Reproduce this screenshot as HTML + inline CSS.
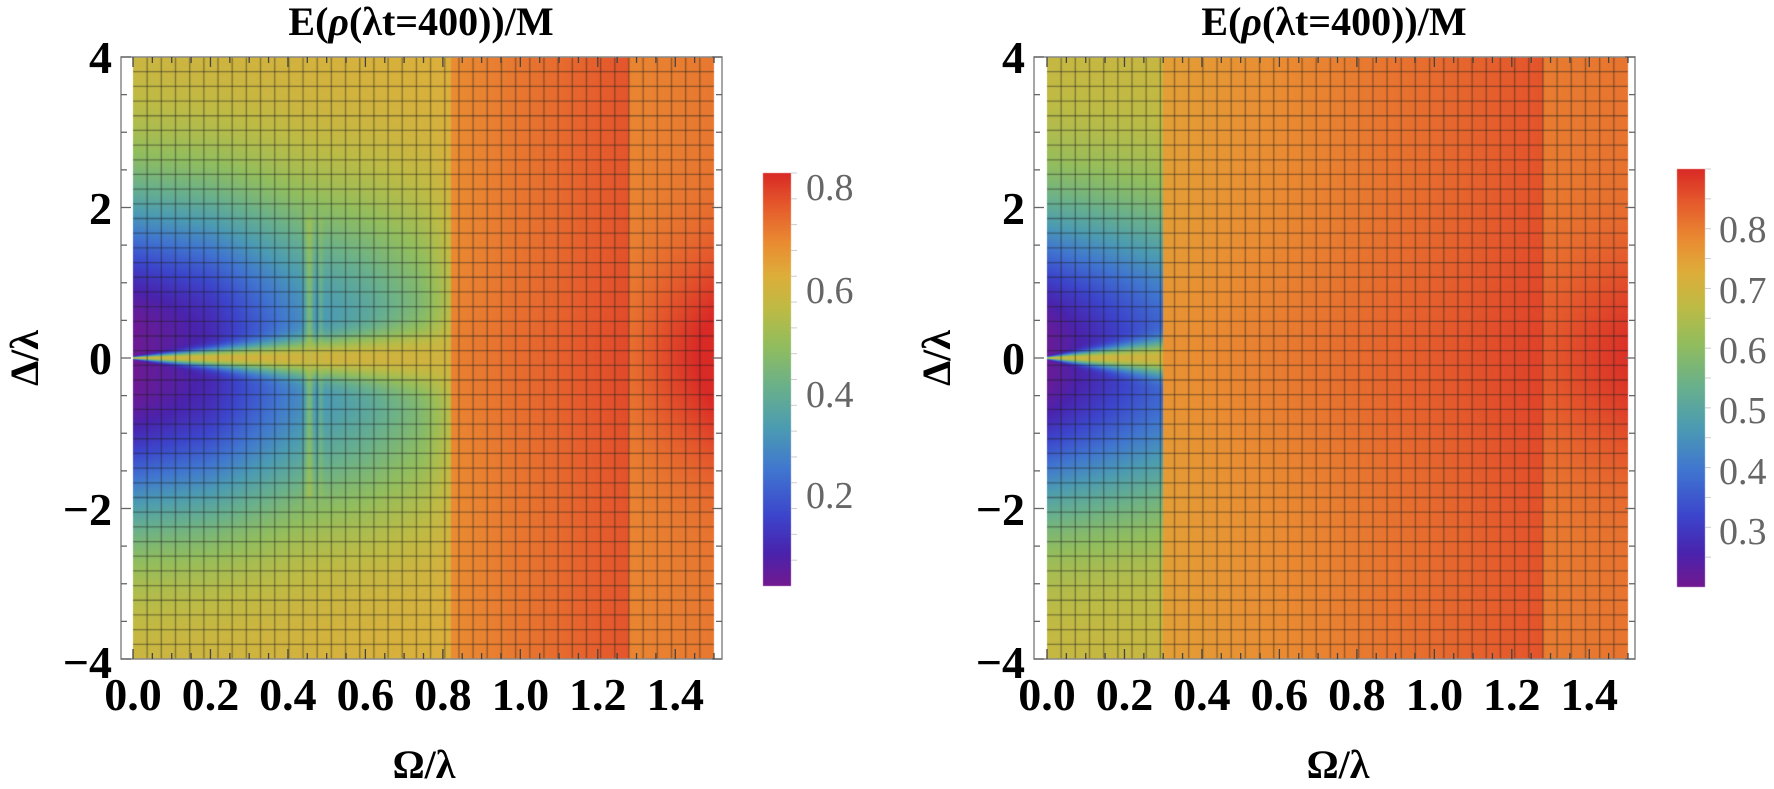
<!DOCTYPE html>
<html><head><meta charset="utf-8">
<style>
html,body{margin:0;padding:0;background:#fff;}
#wrap{position:relative;width:1774px;height:789px;overflow:hidden;}
canvas{position:absolute;left:0;top:0;}
svg{position:absolute;left:0;top:0;}
</style></head>
<body><div id="wrap">
<canvas id="c" width="1774" height="789"></canvas>
<svg width="1774" height="789" xmlns="http://www.w3.org/2000/svg" font-family="Liberation Serif, serif">
<rect x="121" y="57" width="601" height="602" fill="none" stroke="#888" stroke-width="1.5"/>
<g id="ticks1"></g>
<rect x="1034" y="57" width="601" height="602" fill="none" stroke="#888" stroke-width="1.5"/>
<g id="ticks2"></g>
<text x="421" y="35" font-size="40" font-weight="bold" text-anchor="middle">E(<tspan font-style="italic">ρ</tspan>(λt=400))/M</text>
<text x="1334" y="35" font-size="40" font-weight="bold" text-anchor="middle">E(<tspan font-style="italic">ρ</tspan>(λt=400))/M</text>
<g font-size="46" font-weight="bold" text-anchor="end">
<text x="112" y="73">4</text>
<text x="112" y="224">2</text>
<text x="112" y="374">0</text>
<text x="112" y="525">−2</text>
<text x="112" y="678">−4</text>
<text x="1025" y="73">4</text>
<text x="1025" y="224">2</text>
<text x="1025" y="374">0</text>
<text x="1025" y="525">−2</text>
<text x="1025" y="678">−4</text>
</g>
<g font-size="46" font-weight="bold" text-anchor="middle" id="xl"></g>
<text x="424" y="778" font-size="40" font-weight="bold" text-anchor="middle">Ω/λ</text>
<text x="1338" y="778" font-size="40" font-weight="bold" text-anchor="middle">Ω/λ</text>
<text transform="translate(38,358) rotate(-90)" font-size="40" font-weight="bold" text-anchor="middle">Δ/λ</text>
<text transform="translate(950,358) rotate(-90)" font-size="40" font-weight="bold" text-anchor="middle">Δ/λ</text>
<g id="cb"></g>
<g font-size="38" fill="#666">
<text x="806" y="200">0.8</text>
<text x="806" y="303">0.6</text>
<text x="806" y="407">0.4</text>
<text x="806" y="508">0.2</text>
<text x="1719" y="242">0.8</text>
<text x="1719" y="303">0.7</text>
<text x="1719" y="363">0.6</text>
<text x="1719" y="423">0.5</text>
<text x="1719" y="484">0.4</text>
<text x="1719" y="544">0.3</text>
</g>
</svg>
</div>
<script>
var stops=[[0,[114,25,143]],[0.08,[74,35,173]],[0.17,[60,69,204]],[0.28,[64,118,208]],[0.38,[75,155,179]],[0.48,[105,176,140]],[0.58,[145,189,94]],[0.67,[189,187,69]],[0.75,[221,174,58]],[0.83,[234,140,50]],[0.92,[229,90,44]],[1,[217,42,38]]];
function cmap(t){t=Math.max(0,Math.min(1,t));for(var i=1;i<stops.length;i++){if(t<=stops[i][0]){var a=stops[i-1],b=stops[i],u=(t-a[0])/(b[0]-a[0]);return [a[1][0]+(b[1][0]-a[1][0])*u,a[1][1]+(b[1][1]-a[1][1])*u,a[1][2]+(b[1][2]-a[1][2])*u];}}return stops[stops.length-1][1];}
function pl(pts,x){if(x<=pts[0][0])return pts[0][1];for(var i=1;i<pts.length;i++){if(x<=pts[i][0]){var a=pts[i-1],b=pts[i];return a[1]+(b[1]-a[1])*(x-a[0])/(b[0]-a[0]);}}return pts[pts.length-1][1];}
var vm1=[[0,0.03],[0.2,0.1],[0.35,0.22],[0.45,0.3],[0.6,0.36],[0.75,0.45],[0.82,0.55]];
function f1(x,y){var ay=Math.abs(y),v;
 if(x<0.82){var vmin=pl(vm1,x),vtop=0.6+0.025*x/0.82;var d=Math.max(ay-0.3,0)/1.9;var h=Math.exp(-d*d);v=vtop-(vtop-vmin)*h;
  var w=0.015+0.5*x;v+=(0.6-v)*Math.exp(-(ay/w)*(ay/w));
  var lim=ay<1.8?1:Math.exp(-Math.pow((ay-1.8)/0.1,2));
  var s=Math.exp(-Math.pow((x-0.455)/0.01,2))*lim;v+=(0.56-v)*s*0.55;
  var s2=Math.exp(-Math.pow((x-0.485)/0.006,2))*lim;v+=(0.55-v)*s2*0.3;
 }else if(x<1.28){var u=(x-0.82)/0.46;v=0.69+0.08*u+0.015*Math.exp(-ay*ay/1.5);}
 else{var u=(x-1.28)/0.22;v=0.70+0.02*u+0.03*Math.exp(-ay*ay/1.5)+0.1*u*Math.exp(-Math.pow(ay/1.4,2));}
 return (v-0.023)/(0.827-0.023);}
function f2(x,y){var ay=Math.abs(y),v;
 if(x<0.3){var vmin=0.22+0.5*x,vtop=0.69;var d=Math.max(ay-0.2,0)/1.8;var h=Math.exp(-d*d);v=vtop-(vtop-vmin)*h;
  var w=0.015+0.7*x;v+=(0.7-v)*Math.exp(-(ay/w)*(ay/w));
 }else if(x<1.28){var u=(x-0.3)/0.98;v=0.75+0.1*u+0.02*Math.exp(-ay*ay/2);}
 else{var u=(x-1.28)/0.22;v=0.80+0.01*u+0.08*(0.5+0.5*u)*Math.exp(-Math.pow(ay/1.4,2));}
 return (v-0.207)/(0.898-0.207);}
var c=document.getElementById('c'),ctx=c.getContext('2d');
function heat(x0,f){var W=581,H=602,img=ctx.createImageData(W,H);
 for(var py=0;py<H;py++){var y=4-(py+0.5)/H*8;for(var px=0;px<W;px++){var x=(px+0.5)/W*1.5;var col=cmap(f(x,y));var k=(py*W+px)*4;img.data[k]=col[0];img.data[k+1]=col[1];img.data[k+2]=col[2];img.data[k+3]=255;}}
 ctx.putImageData(img,x0,57);
 ctx.strokeStyle='rgba(30,30,30,0.45)';ctx.lineWidth=1.3;
 for(var i=1;i<41;i++){var gx=x0+i*W/41;ctx.beginPath();ctx.moveTo(gx,57);ctx.lineTo(gx,659);ctx.stroke();
  var gy=57+i*H/41;ctx.beginPath();ctx.moveTo(x0,gy);ctx.lineTo(x0+W,gy);ctx.stroke();}
}
heat(133,f1);heat(1047,f2);
function bar(x,top,bot){var g=ctx.createLinearGradient(0,bot,0,top);for(var i=0;i<stops.length;i++){var s=stops[i];g.addColorStop(s[0],'rgb('+s[1].map(Math.round).join(',')+')');}ctx.fillStyle=g;ctx.fillRect(x,top,28,bot-top);}
bar(763,173,586);bar(1677,169,587);
var NS='http://www.w3.org/2000/svg';
function ln(g,x1,y1,x2,y2,c,w){var l=document.createElementNS(NS,'line');l.setAttribute('x1',x1);l.setAttribute('y1',y1);l.setAttribute('x2',x2);l.setAttribute('y2',y2);l.setAttribute('stroke',c||'#666');l.setAttribute('stroke-width',w||1.3);g.appendChild(l);}
function ticks(id,fl,x0,fr){var g=document.getElementById(id);
 for(var i=0;i<=16;i++){var y=57+i*602/16;var L=(i%4==0)?10:6;ln(g,fl,y,fl+L,y);ln(g,fr,y,fr-L,y);}
 for(var j=0;j<=30;j++){var x=x0+j*581/30;var L=(j%4==0)?10:6;ln(g,x,659,x,659-L,'#444');ln(g,x,57,x,57+L,'#444');}
}
ticks('ticks1',121,133,722);ticks('ticks2',1034,1047,1635);
var xl=document.getElementById('xl');var labs=['0.0','0.2','0.4','0.6','0.8','1.0','1.2','1.4'];
[133,1047].forEach(function(x0){labs.forEach(function(s,i){var t=document.createElementNS(NS,'text');t.setAttribute('x',x0+i*0.2*581/1.5);t.setAttribute('y',710);t.textContent=s;xl.appendChild(t);});});
var cb=document.getElementById('cb');
for(var k=0;k<16;k++){var y=173+k*413/16;ln(cb,791,y,797,y,'#ccc',1);}
for(var k=0;k<14;k++){var y=169+k*418/14;ln(cb,1705,y,1711,y,'#ccc',1);}
</script>
</body></html>
